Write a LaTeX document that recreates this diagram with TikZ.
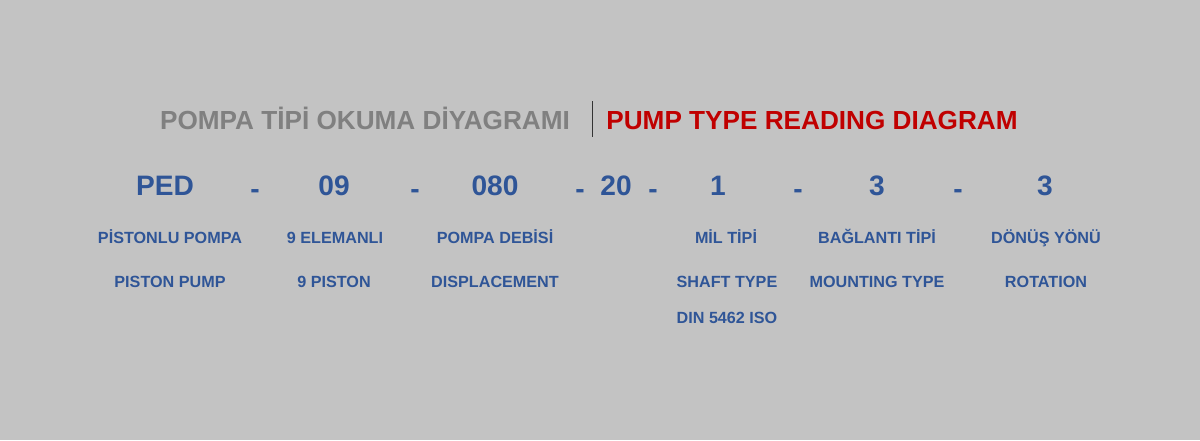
\documentclass[tikz,border=0pt]{standalone}
\usepackage{fontspec}
\setmainfont{Liberation Sans}
\usepackage{xcolor}
\definecolor{bgray}{RGB}{195,195,195}
\definecolor{tgray}{RGB}{128,128,128}
\definecolor{tred}{RGB}{192,0,0}
\definecolor{tblue}{RGB}{47,85,151}
\begin{document}
\begin{tikzpicture}[x=0.025cm,y=-0.025cm,
  title/.style={font=\fontsize{18.6}{20}\selectfont\bfseries,inner sep=0pt,anchor=base},
  code/.style={font=\fontsize{20}{22}\selectfont\bfseries,text=tblue,inner sep=0pt,anchor=base},
  label/.style={font=\fontsize{11.5}{13}\selectfont\bfseries,text=tblue,inner sep=0pt,anchor=base}]
\fill[bgray] (0,0) rectangle (1200,440);
\useasboundingbox (0,0) rectangle (1200,440);
% titles
\node[title,text=tgray] (trtitle) at (365,129) {POMPA TİPİ OKUMA DİYAGRAMI};
\node[title,text=tred] (entitle) at (812,129) {PUMP TYPE READING DIAGRAM};
\coordinate (septop) at (592,101);
\coordinate (sepbot) at (592,137);
\draw[black!80,line width=0.6pt] (septop) -- (sepbot);
% code
\node[code] (ped) at (165,195) {PED};
\node[code] (d1) at (255,198) {-};
\node[code] (nine) at (334,195) {09};
\node[code] (d2) at (415,198) {-};
\node[code] (disp) at (495,195) {080};
\node[code] (d3) at (580,198) {-};
\node[code] (twenty) at (616,195) {20};
\node[code] (d4) at (653,198) {-};
\node[code] (shaft) at (718,195) {1};
\node[code] (d5) at (798,198) {-};
\node[code] (mount) at (877,195) {3};
\node[code] (d6) at (958,198) {-};
\node[code] (rot) at (1045,195) {3};
% turkish labels
\node[label] (tr1) at (170,243) {PİSTONLU POMPA};
\node[label] (tr2) at (335,243) {9 ELEMANLI};
\node[label] (tr3) at (495,243) {POMPA DEBİSİ};
\node[label] (tr4) at (726,243) {MİL TİPİ};
\node[label] (tr5) at (877,243) {BAĞLANTI TİPİ};
\node[label] (tr6) at (1046,243) {DÖNÜŞ YÖNÜ};
% english labels
\node[label] (en1) at (170,287) {PISTON PUMP};
\node[label] (en2) at (334,287) {9 PISTON};
\node[label] (en3) at (495,287) {DISPLACEMENT};
\node[label] (en4) at (727,287) {SHAFT TYPE};
\node[label] (en5) at (877,287) {MOUNTING TYPE};
\node[label] (en6) at (1046,287) {ROTATION};
\node[label] (din) at (727,323) {DIN 5462 ISO};
\end{tikzpicture}
\end{document}
